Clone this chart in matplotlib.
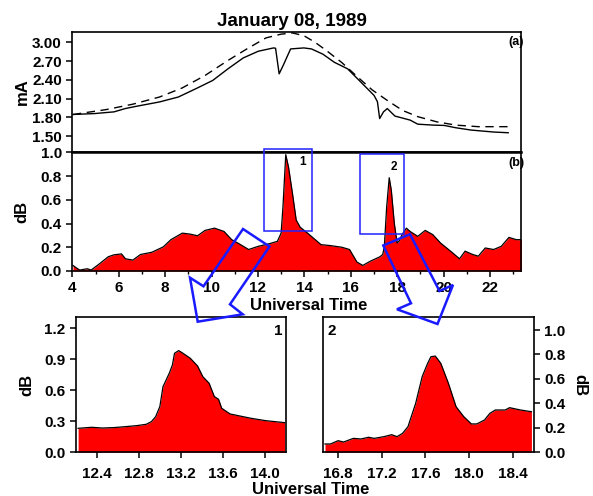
import numpy as np
import matplotlib.pyplot as plt
from matplotlib.patches import Polygon, Rectangle
from matplotlib.ticker import MultipleLocator, FormatStrFormatter

plt.rcParams['font.family'] = ['Liberation Sans', 'DejaVu Sans']
plt.rcParams['font.weight'] = 'bold'
plt.rcParams['axes.linewidth'] = 1.2

W, H = 593, 496

# panel (a): current traces (mA)
ut_solid = [4.03, 5.0, 5.86, 6.36, 6.87, 7.89, 8.73, 9.58, 10.26, 10.94, 11.62, 12.29,
            12.97, 13.06, 13.22, 13.4, 13.73, 14.32, 14.66, 15.17, 15.68, 16.27, 16.86,
            17.45, 17.6, 17.7, 17.87, 18.04, 18.38, 19.06, 19.4, 20.08, 20.58, 21.09,
            21.77, 22.79, 23.43]
ma_solid = [1.845, 1.86, 1.887, 1.94, 1.977, 2.046, 2.125, 2.27, 2.39, 2.576, 2.75, 2.857,
            2.91, 2.905, 2.496, 2.63, 2.894, 2.91, 2.894, 2.81, 2.68, 2.576, 2.364,
            2.15, 2.05, 1.78, 1.887, 1.94, 1.82, 1.755, 1.69, 1.675, 1.67, 1.633,
            1.596, 1.564, 1.553]
ut_dash = [4.03, 5.52, 6.7, 7.89, 8.9, 9.92, 10.94, 11.78, 12.63, 13.3, 13.81, 14.32,
           14.82, 15.33, 16.0, 16.69, 17.36, 18.04, 18.72, 19.4, 20.24, 21.09, 22.1, 23.43]
ma_dash = [1.845, 1.924, 2.01, 2.125, 2.27, 2.47, 2.71, 2.894, 3.07, 3.13, 3.15, 3.106,
           3.0, 2.867, 2.68, 2.454, 2.24, 2.07, 1.91, 1.81, 1.728, 1.675, 1.65, 1.65]

# panel (b): absorption (dB)
ut_b = [4.03, 4.16, 4.32, 4.65, 4.81, 5.14, 5.55, 5.79, 6.12, 6.29, 6.61, 6.94, 7.43,
        7.92, 8.25, 8.74, 9.07, 9.4, 9.72, 10.13, 10.54, 10.87, 11.2, 11.6, 12.02, 12.51,
        12.84, 13.0, 13.08, 13.2, 13.32, 13.49, 13.65, 13.82, 14.14, 14.47, 14.72, 15.13,
        15.62, 15.95, 16.27, 16.52, 16.85, 17.25, 17.38, 17.45, 17.55, 17.66, 17.75,
        17.88, 18.0, 18.08, 18.21, 18.4, 18.56, 18.89, 19.21, 19.54, 19.87, 20.36, 20.69,
        20.93, 21.26, 21.5, 21.8, 22.16, 22.49, 22.82, 23.14, 23.44]
db_b = [0.047, 0.028, 0.008, 0.019, 0.008, 0.056, 0.12, 0.136, 0.144, 0.103, 0.092, 0.139,
        0.158, 0.203, 0.264, 0.319, 0.311, 0.297, 0.342, 0.361, 0.333, 0.264, 0.228,
        0.181, 0.208, 0.231, 0.25, 0.319, 0.54, 0.98, 0.875, 0.653, 0.43, 0.369, 0.319,
        0.264, 0.222, 0.214, 0.2, 0.181, 0.075, 0.047, 0.083, 0.119, 0.139, 0.208, 0.54,
        0.786, 0.68, 0.40, 0.236, 0.25, 0.306, 0.361, 0.333, 0.292, 0.342, 0.306, 0.236,
        0.158, 0.103, 0.167, 0.139, 0.125, 0.194, 0.181, 0.208, 0.283, 0.264, 0.264]

# zoom 1
ut_1 = [12.22, 12.35, 12.45, 12.56, 12.67, 12.78, 12.87, 12.92, 12.96, 13.0, 13.03, 13.09,
        13.12, 13.14, 13.18, 13.21, 13.29, 13.36, 13.41, 13.47, 13.52, 13.56, 13.59, 13.67,
        13.76, 13.87, 14.01, 14.19]
db_1 = [0.232, 0.242, 0.235, 0.239, 0.248, 0.258, 0.271, 0.297, 0.345, 0.442, 0.635, 0.765,
        0.845, 0.958, 0.984, 0.965, 0.91, 0.835, 0.732, 0.668, 0.539, 0.513, 0.426, 0.371,
        0.352, 0.329, 0.306, 0.287]

# zoom 2
ut_2 = [16.68, 16.73, 16.8, 16.85, 16.94, 17.01, 17.08, 17.13, 17.22, 17.29, 17.34, 17.39,
        17.44, 17.48, 17.51, 17.57, 17.62, 17.65, 17.69, 17.74, 17.81, 17.88, 17.95, 18.02,
        18.07, 18.14, 18.19, 18.24, 18.33, 18.37, 18.47, 18.57]
db_2 = [0.068, 0.068, 0.095, 0.084, 0.114, 0.109, 0.123, 0.114, 0.128, 0.144, 0.128, 0.155,
        0.21, 0.319, 0.40, 0.619, 0.728, 0.782, 0.787, 0.728, 0.564, 0.373, 0.292, 0.232,
        0.232, 0.264, 0.319, 0.346, 0.346, 0.365, 0.346, 0.332]

# zoom windows drawn on panel (b): (x0, y0, x1, y1)
win_1 = [12.26, 0.338, 14.32, 1.027]
win_2 = [16.39, 0.315, 18.28, 0.985]


def px_rect(x0, y0, x1, y1):
    return [x0 / W, 1 - y1 / H, (x1 - x0) / W, (y1 - y0) / H]


def px(pts):
    return [(x / W, 1 - y / H) for x, y in pts]


fig = plt.figure(figsize=(W / 100, H / 100), dpi=100)
ax_a = fig.add_axes(px_rect(72.3, 32.3, 521, 152.3))
ax_b = fig.add_axes(px_rect(72.3, 152.3, 521, 271))
ax_1 = fig.add_axes(px_rect(76, 317.3, 285.6, 452.3))
ax_2 = fig.add_axes(px_rect(322.8, 317.3, 533.6, 452.3))

tick_fs = 11
for ax in (ax_a, ax_b, ax_1, ax_2):
    ax.tick_params(direction='out', length=4.5, width=1.1, labelsize=tick_fs, pad=3)
    ax.tick_params(which='minor', direction='out', length=2.5, width=1.0)

# (a)
ax_a.plot(ut_solid, ma_solid, color='black', lw=1.0)
ax_a.plot(ut_dash, ma_dash, color='black', lw=1.0, ls=(0, (6, 4)))
ax_a.set_xlim(4, 24)
ax_a.set_ylim(1.24, 3.16)
ax_a.set_yticks([1.5, 1.8, 2.1, 2.4, 2.7, 3.0])
ax_a.yaxis.set_major_formatter(FormatStrFormatter('%.2f'))
ax_a.set_xticks([])
ax_a.text(0.99, 0.97, '(a)', transform=ax_a.transAxes, ha='center', va='top', fontsize=9)

# (b)
ax_b.fill_between(ut_b, db_b, 0, color='red', lw=0)
ax_b.plot(ut_b, db_b, color='black', lw=0.9)
ax_b.set_xlim(4, 23.34)
ax_b.set_ylim(0, 1.0)
ax_b.set_xticks(np.arange(4, 23, 2))
ax_b.xaxis.set_minor_locator(MultipleLocator(1))
ax_b.set_yticks(np.arange(0, 1.01, 0.2))
ax_b.yaxis.set_major_formatter(FormatStrFormatter('%.1f'))
ax_b.tick_params(axis='x', pad=3)
ax_b.spines['top'].set_linewidth(1.8)
ax_b.text(0.99, 0.96, '(b)', transform=ax_b.transAxes, ha='center', va='top', fontsize=9)
for win, lab in ((win_1, '1'), (win_2, '2')):
    ax_b.add_patch(Rectangle((win[0], win[1]), win[2] - win[0], win[3] - win[1],
                             fill=False, ec='#2222ff', lw=1.1, clip_on=False, zorder=5))
    ax_b.text(win[2] - 0.4, win[3] - 0.06, lab, ha='center', va='top', fontsize=8.5)

# zoom panels
ax_1.fill_between(ut_1, db_1, 0, color='red', lw=0)
ax_1.plot(ut_1, db_1, color='black', lw=0.9)
ax_1.set_xlim(12.2, 14.2)
ax_1.set_ylim(0, 1.306)
ax_1.set_xticks([12.4, 12.8, 13.2, 13.6, 14.0])
ax_1.set_yticks([0.0, 0.3, 0.6, 0.9, 1.2])
ax_1.xaxis.set_major_formatter(FormatStrFormatter('%.1f'))
ax_1.yaxis.set_major_formatter(FormatStrFormatter('%.1f'))
ax_1.tick_params(axis='x', pad=6)
ax_1.text(0.985, 0.95, '1', transform=ax_1.transAxes, ha='right', va='top', fontsize=11)

ax_2.fill_between(ut_2, db_2, 0, color='red', lw=0)
ax_2.plot(ut_2, db_2, color='black', lw=0.9)
ax_2.set_xlim(16.66, 18.59)
ax_2.set_ylim(0, 1.104)
ax_2.set_xticks([16.8, 17.2, 17.6, 18.0, 18.4])
ax_2.set_yticks([0.0, 0.2, 0.4, 0.6, 0.8, 1.0])
ax_2.xaxis.set_major_formatter(FormatStrFormatter('%.1f'))
ax_2.yaxis.set_major_formatter(FormatStrFormatter('%.1f'))
ax_2.yaxis.tick_right()
ax_2.tick_params(axis='x', pad=6)
ax_2.text(0.02, 0.95, '2', transform=ax_2.transAxes, ha='left', va='top', fontsize=11)

# titles and labels
fig.text(292 / W, 1 - 21.7 / H, 'January 08, 1989', ha='center', va='center', fontsize=13.5)
fig.text(22 / W, 1 - 92 / H, 'mA', ha='center', va='center', rotation=90, fontsize=12)
fig.text(22 / W, 1 - 211.7 / H, 'dB', ha='center', va='center', rotation=90, fontsize=12)
fig.text(27 / W, 1 - 385 / H, 'dB', ha='center', va='center', rotation=90, fontsize=12)
fig.text(580 / W, 1 - 385 / H, 'dB', ha='center', va='center', rotation=270, fontsize=12)
fig.text(309 / W, 1 - 305 / H, 'Universal Time', ha='center', va='center', fontsize=12)
fig.text(311 / W, 1 - 490 / H, 'Universal Time', ha='center', va='center', fontsize=12)

# hollow arrows linking windows to zoom panels
arrow_1 = [(243, 229), (269.5, 246.5), (230, 304.3), (242.7, 314.3), (197.7, 321.7),
           (190, 277.7), (203.5, 286.3)]
arrow_2 = [(383.3, 245.5), (410, 234.2), (439.5, 291), (453, 285), (437.5, 324),
           (397, 309.3), (411, 303.3)]
for arr in (arrow_1, arrow_2):
    fig.add_artist(Polygon(px(arr), closed=True, fill=False, ec='#1a1aff', lw=1.8,
                           transform=fig.transFigure, zorder=10))

fig.savefig('out.png', dpi=100)
